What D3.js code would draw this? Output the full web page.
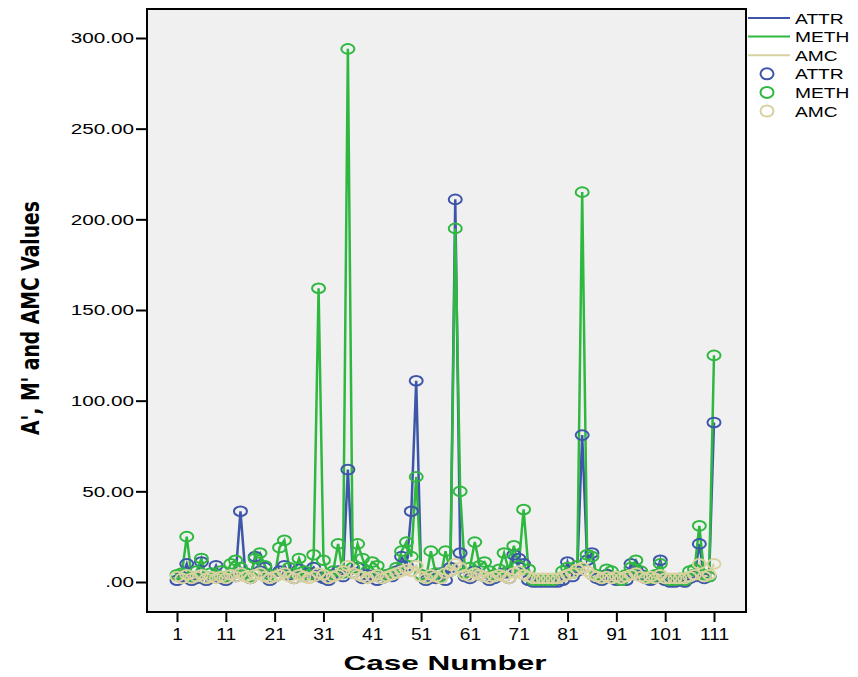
<!DOCTYPE html>
<html>
<head>
<meta charset="utf-8">
<script src="https://cdn.jsdelivr.net/npm/d3@7"></script>
<style>
  body { margin: 0; background: #fff; }
  svg text { font-family: "Liberation Sans", Arial, sans-serif; fill: #000; }
</style>
</head>
<body>
<div class="container"></div>
<script>
// values per case number 1..111
const attr = [1, 3, 10, 1, 2, 11, 1, 3, 9, 2, 1, 4, 3, 39, 5, 2, 14, 6, 8, 1,
    3, 6, 9, 4, 2, 7, 3, 5, 8, 3, 2, 1, 4, 6, 3, 62, 5, 8, 2, 4,
    3, 1, 2, 4, 3, 6, 14, 9, 39, 111, 4, 1, 3, 2, 5, 1, 8, 211, 16, 3,
    2, 6, 4, 3, 1, 2, 4, 5, 2, 15, 13, 10, 1, 0, 0, 0, 0, 0, 0, 1,
    11, 3, 6, 81, 12, 16, 2, 1, 4, 3, 1, 2, 1, 10, 7, 4, 2, 1, 3, 12,
    1, 0, 0, 1, 0, 2, 3, 21, 2, 3, 88]
const meth = [4, 5, 25, 3, 6, 13, 2, 5, 4, 6, 3, 10, 12, 8, 5, 3, 13, 16, 9, 4,
    3, 19, 23, 8, 5, 13, 6, 4, 15, 162, 12, 4, 6, 21, 5, 294, 8, 21, 13, 6,
    11, 9, 4, 3, 5, 8, 17, 22, 14, 58, 4, 2, 17, 5, 3, 17, 6, 195, 50, 5,
    8, 22, 9, 11, 6, 4, 7, 16, 6, 20, 9, 40, 7, 1, 1, 1, 1, 1, 2, 6,
    8, 5, 9, 215, 15, 14, 4, 2, 7, 6, 3, 1, 4, 8, 12, 6, 3, 2, 4, 10,
    2, 1, 1, 2, 1, 6, 7, 31, 4, 3, 125]
const amc = [3, 2, 4, 2, 3, 4, 2, 3, 2, 3, 2, 4, 3, 5, 3, 2, 4, 5, 3, 2,
    3, 4, 5, 3, 2, 4, 3, 2, 3, 5, 4, 2, 3, 4, 6, 9, 5, 4, 3, 2,
    3, 4, 2, 3, 4, 5, 6, 7, 6, 9, 3, 2, 4, 3, 2, 5, 6, 10, 8, 4,
    3, 5, 4, 3, 2, 3, 4, 3, 2, 5, 6, 4, 3, 2, 2, 2, 2, 2, 2, 3,
    4, 5, 7, 8, 6, 4, 3, 2, 3, 2, 3, 2, 3, 4, 5, 3, 2, 3, 2, 4,
    2, 2, 2, 2, 2, 3, 4, 10, 3, 4, 10]

const seriesNames = ['ATTR', 'METH', 'AMC']
const seriesColors = ['#3d56a9', '#2fb840', '#d8d1a0']
const xTicks = [1, 11, 21, 31, 41, 51, 61, 71, 81, 91, 101, 111]
const yTicks = [0, 50, 100, 150, 200, 250, 300]

let width = 858
let height = 677
let frame = { left: 147, top: 9, right: 746, bottom: 612 }

let series = [attr, meth, amc].map((vals, k) => ({
    name: seriesNames[k],
    color: seriesColors[k],
    values: vals.map((v, i) => ({ caseNo: i + 1, value: v }))
}))

let xScale = d3.scaleLinear()
    .domain([1, 111])
    .range([177, 714])

let yScale = d3.scaleLinear()
    .domain([0, 300])
    .range([582, 38])

let svg = d3.select('.container')
    .append('svg')
    .attr('width', width)
    .attr('height', height)

// stretch text horizontally, the export looks wider than the plain font
function stretch(sel, f) {
    sel.each(function () {
        let w = this.getComputedTextLength()
        d3.select(this)
            .attr('textLength', w * f)
            .attr('lengthAdjust', 'spacingAndGlyphs')
    })
}

svg.append('rect')
    .attr('x', frame.left)
    .attr('y', frame.top)
    .attr('width', frame.right - frame.left)
    .attr('height', frame.bottom - frame.top)
    .attr('fill', '#f0f0f0')

let line = d3.line()
    .x(d => xScale(d.caseNo))
    .y(d => yScale(d.value))

svg.append('g')
    .selectAll('path')
    .data(series)
    .enter()
    .append('path')
    .attr('d', d => line(d.values))
    .attr('fill', 'none')
    .attr('stroke', d => d.color)
    .attr('stroke-width', 2.5)
    .attr('stroke-linejoin', 'miter')

series.forEach((s) => {
    svg.append('g')
        .selectAll('ellipse')
        .data(s.values)
        .enter()
        .append('ellipse')
        .attr('cx', d => xScale(d.caseNo))
        .attr('cy', d => yScale(d.value))
        .attr('rx', 6.5)
        .attr('ry', 4.8)
        .attr('fill', 'none')
        .attr('stroke', s.color)
        .attr('stroke-width', 2)
})

svg.append('rect')
    .attr('x', frame.left)
    .attr('y', frame.top)
    .attr('width', frame.right - frame.left)
    .attr('height', frame.bottom - frame.top)
    .attr('fill', 'none')
    .attr('stroke', '#000')
    .attr('stroke-width', 2)

let yAxis = d3.axisLeft(yScale)
    .tickValues(yTicks)
    .tickSize(11)
    .tickPadding(2)
    .tickFormat(d => d === 0 ? '.00' : d3.format('.2f')(d))

let gy = svg.append('g')
    .attr('transform', `translate(${frame.left},0)`)
    .call(yAxis)
gy.select('.domain').remove()
gy.selectAll('line').attr('stroke', '#000').attr('stroke-width', 2)
gy.selectAll('text').style('font-size', '15px')
stretch(gy.selectAll('text'), 1.38)

let xAxis = d3.axisBottom(xScale)
    .tickValues(xTicks)
    .tickSize(10)
    .tickPadding(7)

let gx = svg.append('g')
    .attr('transform', `translate(0,${frame.bottom})`)
    .call(xAxis)
gx.select('.domain').remove()
gx.selectAll('line').attr('stroke', '#000').attr('stroke-width', 2)
gx.selectAll('text').style('font-size', '16px')
stretch(gx.selectAll('text'), 1.2)

svg.append('text')
    .attr('x', 445)
    .attr('y', 670)
    .attr('text-anchor', 'middle')
    .style('font-size', '21px')
    .style('font-weight', 'bold')
    .text('Case Number')
    .call(stretch, 1.5)

svg.append('text')
    .attr('transform', 'translate(39,318) rotate(-90)')
    .attr('text-anchor', 'middle')
    .style('font-family', '"Liberation Sans Narrow", "DejaVu Sans Condensed", sans-serif')
    .style('font-size', '25px')
    .style('font-weight', 'bold')
    .attr('textLength', 234)
    .attr('lengthAdjust', 'spacingAndGlyphs')
    .text("A', M' and AMC Values")

// legend
let legend = svg.append('g')
let rowY = (i) => 18 + i * 18.6

series.forEach((s, i) => {
    legend.append('line')
        .attr('x1', 748)
        .attr('x2', 790)
        .attr('y1', rowY(i))
        .attr('y2', rowY(i))
        .attr('stroke', s.color)
        .attr('stroke-width', 2)
    legend.append('ellipse')
        .attr('cx', 767)
        .attr('cy', rowY(i + 3))
        .attr('rx', 6.5)
        .attr('ry', 5.5)
        .attr('fill', 'none')
        .attr('stroke', s.color)
        .attr('stroke-width', 2)
})

let labels = seriesNames.concat(seriesNames)
legend.selectAll('text')
    .data(labels)
    .enter()
    .append('text')
    .attr('x', 795)
    .attr('y', (d, i) => rowY(i) + 5.5)
    .style('font-size', '15px')
    .text(d => d)
    .call(stretch, 1.28)
</script>
</body>
</html>
